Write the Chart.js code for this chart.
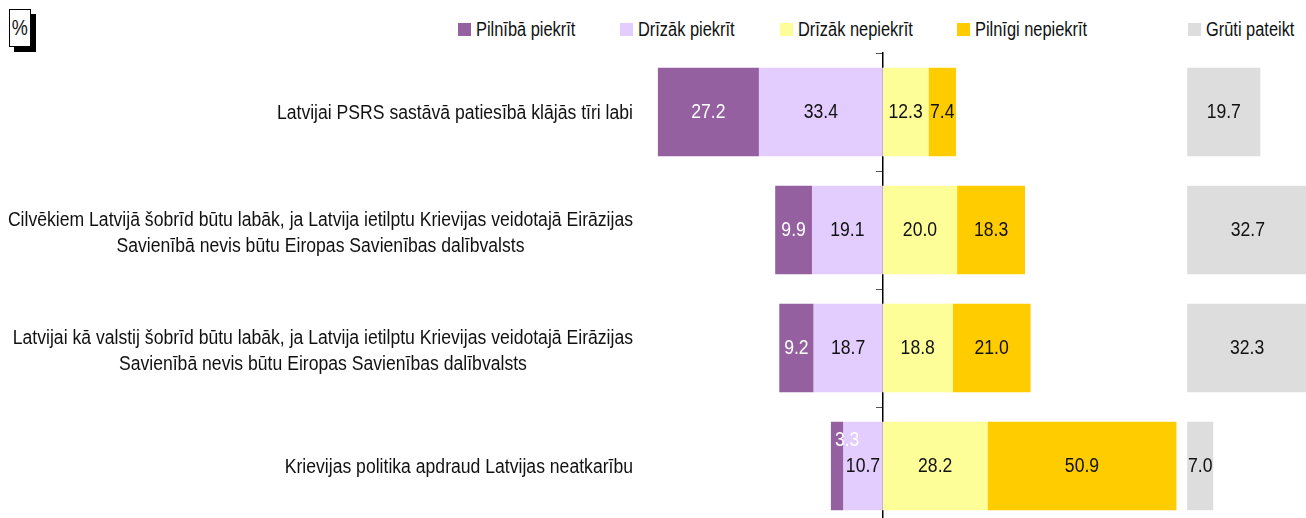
<!DOCTYPE html>
<html lang="lv">
<head>
<meta charset="utf-8">
<title>Attieksme pret PSRS, Krieviju un Eirāzijas Savienību</title>
<script src="https://cdn.jsdelivr.net/npm/chart.js@4.4.1/dist/chart.umd.min.js"></script>
<style>
  html, body { margin: 0; padding: 0; background: #fff; overflow: hidden; }
  body {
    width: 1306px; height: 518px; position: relative;
    font-family: "Liberation Sans", Arial, sans-serif;
    color: #111;
  }
  #wrap { position: absolute; left: 0; top: 0; width: 1306px; height: 530px; }
  .unit {
    position: absolute; left: 9px; top: 9px; width: 20px; height: 36px;
    border: 1px solid #000; background: #fff; box-shadow: 5px 5px 0 #000;
    font-size: 22px; line-height: 36px; text-align: center;
  }
  .unit b { display: inline-block; font-weight: normal; transform: scaleX(0.82); }
  .legend i { position: absolute; top: 23px; width: 13px; height: 13px; }
  .legend span {
    position: absolute; top: 17px; font-size: 20px; line-height: 24px; white-space: nowrap;
    transform: scaleX(0.82); transform-origin: 0 50%;
  }
</style>
</head>
<body>
<div class="unit"><b>%</b></div>
<div class="legend" id="legend"></div>
<div id="wrap"><canvas id="chart" width="1306" height="530"></canvas></div>
<script>
const FONT = '20px "Liberation Sans", Arial, sans-serif';
// condensed look of the labels
const SQUEEZE = 0.88;

const categories = [
  ["Latvijai PSRS sastāvā patiesībā klājās tīri labi"],
  ["Cilvēkiem Latvijā šobrīd būtu labāk, ja Latvija ietilptu Krievijas veidotajā Eirāzijas",
   "Savienībā nevis būtu Eiropas Savienības dalībvalsts"],
  ["Latvijai kā valstij šobrīd būtu labāk, ja Latvija ietilptu Krievijas veidotajā Eirāzijas",
   "Savienībā nevis būtu Eiropas Savienības dalībvalsts"],
  ["Krievijas politika apdraud Latvijas neatkarību"]
];

const seriesNames = ["Pilnībā piekrīt", "Drīzāk piekrīt", "Drīzāk nepiekrīt", "Pilnīgi nepiekrīt", "Grūti pateikt"];

const fullyAgree     = [27.2, 9.9, 9.2, 3.3];
const ratherAgree    = [33.4, 19.1, 18.7, 10.7];
const ratherDisagree = [12.3, 20.0, 18.8, 28.2];
const fullyDisagree  = [7.4, 18.3, 21.0, 50.9];
const hardToSay      = [19.7, 32.7, 32.3, 7.0];

const colors = ["#9460a0", "#e3ccfe", "#fefe99", "#ffcc00", "#dddddd"];
const legendLeft = [458, 620, 780, 957, 1188];

// "Grūti pateikt" sits in its own column to the right of the diverging bars
const HARD_START = 82;

// legend
const legend = document.getElementById("legend");
seriesNames.forEach((name, i) => {
  const box = document.createElement("i");
  box.style.left = legendLeft[i] + "px";
  box.style.background = colors[i];
  const txt = document.createElement("span");
  txt.style.left = (legendLeft[i] + 18) + "px";
  txt.textContent = name;
  legend.appendChild(box);
  legend.appendChild(txt);
});

// agreement goes left of zero, disagreement to the right
const segments = [
  { name: 0, values: fullyAgree,     range: (i) => [-(ratherAgree[i] + fullyAgree[i]), -ratherAgree[i]], text: "#fff" },
  { name: 1, values: ratherAgree,    range: (i) => [-ratherAgree[i], 0], text: "#111" },
  { name: 2, values: ratherDisagree, range: (i) => [0, ratherDisagree[i]], text: "#111" },
  { name: 3, values: fullyDisagree,  range: (i) => [ratherDisagree[i], ratherDisagree[i] + fullyDisagree[i]], text: "#111" },
  { name: 4, values: hardToSay,      range: (i) => [HARD_START, HARD_START + hardToSay[i]], text: "#111" }
];

const datasets = segments.map((s) => ({
  label: seriesNames[s.name],
  data: s.values.map((v, i) => s.range(i)),
  values: s.values,
  labelColor: s.text,
  backgroundColor: colors[s.name],
  borderWidth: 0,
  grouped: false,
  barPercentage: 1,
  categoryPercentage: 0.75,
  yAxisID: "y"
}));

function narrowText(ctx, text, x, y, align) {
  ctx.save();
  ctx.translate(x, y);
  ctx.scale(SQUEEZE, 1);
  ctx.textAlign = align;
  ctx.fillText(text, 0, 0);
  ctx.restore();
}

function narrowWidth(ctx, text) {
  return ctx.measureText(text).width * SQUEEZE;
}

const valueLabels = {
  id: "valueLabels",
  afterDatasetsDraw(chart) {
    const ctx = chart.ctx;
    ctx.save();
    ctx.font = FONT;
    ctx.textBaseline = "middle";
    chart.data.datasets.forEach((ds, di) => {
      chart.getDatasetMeta(di).data.forEach((bar, i) => {
        const text = ds.values[i].toFixed(1);
        const left = Math.min(bar.x, bar.base);
        const right = Math.max(bar.x, bar.base);
        ctx.fillStyle = ds.labelColor;
        if (narrowWidth(ctx, text) > right - left) {
          // too narrow: put the label above the segment
          narrowText(ctx, text, left + 4, bar.y - 26, "left");
        } else {
          narrowText(ctx, text, (left + right) / 2, bar.y, "center");
        }
      });
    });
    ctx.restore();
  }
};

// statement text: block right-aligned, lines centred within it
const categoryLabels = {
  id: "categoryLabels",
  afterDraw(chart) {
    const ctx = chart.ctx;
    const y = chart.scales.y;
    const rightEdge = chart.chartArea.left - 16;
    ctx.save();
    ctx.font = FONT;
    ctx.fillStyle = "#111";
    ctx.textBaseline = "middle";
    categories.forEach((lines, i) => {
      const cy = y.getPixelForValue(i) + (lines.length - 1) * 2.5;
      const w = Math.max(...lines.map((l) => narrowWidth(ctx, l)));
      const cx = rightEdge - w / 2;
      lines.forEach((line, k) => {
        narrowText(ctx, line, cx, cy + 1 + (k - (lines.length - 1) / 2) * 26, "center");
      });
    });
    ctx.restore();
  }
};

new Chart(document.getElementById("chart"), {
  type: "bar",
  data: { labels: categories, datasets: datasets },
  options: {
    indexAxis: "y",
    responsive: false,
    animation: false,
    layout: { padding: { left: 649, top: 53, right: 0, bottom: 5 } },
    plugins: {
      legend: { display: false },
      tooltip: { enabled: false }
    },
    scales: {
      x: { type: "linear", display: false, min: -63, max: 114 },
      y: { type: "category", display: false, offset: true },
      zero: {
        axis: "y",
        type: "category",
        position: { x: 0 },
        offset: true,
        z: 1,
        grid: { offset: true, drawOnChartArea: false, drawTicks: true, tickLength: 6, color: "#555" },
        border: { color: "#000", width: 1.5 },
        ticks: { display: false }
      }
    }
  },
  plugins: [valueLabels, categoryLabels]
});
</script>
</body>
</html>
